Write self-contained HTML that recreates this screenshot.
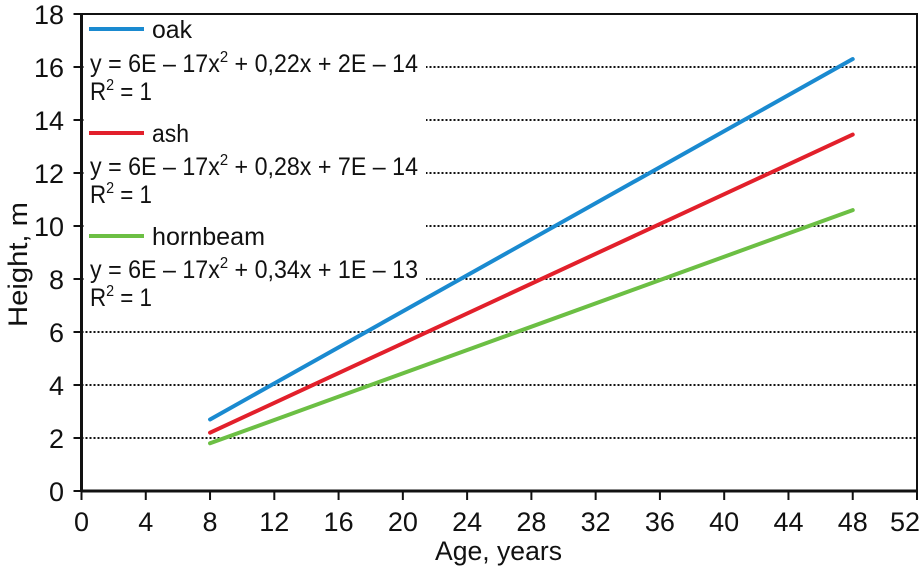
<!DOCTYPE html>
<html><head><meta charset="utf-8">
<style>
html,body{margin:0;padding:0;background:#fff;}
svg{display:block;font-family:"Liberation Sans",sans-serif;}
</style></head>
<body>
<svg id="chart" width="924" height="569" viewBox="0 0 924 569" xmlns="http://www.w3.org/2000/svg">
<g id="grid"></g>
<rect x="84" y="16" width="342" height="296" fill="#fff"/>
<g id="series"></g>
<g id="axes"></g>
<g id="legend" font-size="25" fill="#111">
  <line x1="89" y1="29" x2="144" y2="29" stroke="#1a8ad0" stroke-width="4"/>
  <text x="152" y="38" textLength="40" lengthAdjust="spacingAndGlyphs">oak</text>
  <text x="90" y="72" textLength="328" lengthAdjust="spacingAndGlyphs">y = 6E – 17x<tspan font-size="16" dy="-10">2</tspan><tspan dy="10"> + 0,22x + 2E – 14</tspan></text>
  <text x="90" y="100" textLength="62" lengthAdjust="spacingAndGlyphs">R<tspan font-size="16" dy="-10">2</tspan><tspan dy="10"> = 1</tspan></text>
  <line x1="89" y1="133" x2="144" y2="133" stroke="#e2202b" stroke-width="4"/>
  <text x="152" y="142" textLength="37" lengthAdjust="spacingAndGlyphs">ash</text>
  <text x="90" y="175" textLength="328" lengthAdjust="spacingAndGlyphs">y = 6E – 17x<tspan font-size="16" dy="-10">2</tspan><tspan dy="10"> + 0,28x + 7E – 14</tspan></text>
  <text x="90" y="203" textLength="62" lengthAdjust="spacingAndGlyphs">R<tspan font-size="16" dy="-10">2</tspan><tspan dy="10"> = 1</tspan></text>
  <line x1="89" y1="236" x2="144" y2="236" stroke="#6cbf44" stroke-width="4"/>
  <text x="152" y="245" textLength="113" lengthAdjust="spacingAndGlyphs">hornbeam</text>
  <text x="90" y="278" textLength="328" lengthAdjust="spacingAndGlyphs">y = 6E – 17x<tspan font-size="16" dy="-10">2</tspan><tspan dy="10"> + 0,34x + 1E – 13</tspan></text>
  <text x="90" y="306" textLength="62" lengthAdjust="spacingAndGlyphs">R<tspan font-size="16" dy="-10">2</tspan><tspan dy="10"> = 1</tspan></text>
</g>
<text x="435" y="560" font-size="27" textLength="127" lengthAdjust="spacingAndGlyphs" fill="#111">Age, years</text>
<text transform="translate(27,327) rotate(-90)" font-size="27" textLength="125" lengthAdjust="spacingAndGlyphs" fill="#111">Height,  m</text>
</svg>
<script>
const ages = [8, 48];
const oakHeights = [2.7, 16.3];
const ashHeights = [2.2, 13.45];
const hornbeamHeights = [1.8, 10.6];
const xTicks = [0,4,8,12,16,20,24,28,32,36,40,44,48,52];
const yTicks = [0,2,4,6,8,10,12,14,16,18];

const L=81.5,R=917,T=14,B=491;
const xs=v=>L+(v-0)/(52-0)*(R-L);
const ys=v=>B-(v-0)/(18-0)*(B-T);
const NS="http://www.w3.org/2000/svg";
function mk(tag,attrs,parent){const e=document.createElementNS(NS,tag);for(const k in attrs)e.setAttribute(k,attrs[k]);parent.appendChild(e);return e;}
const grid=document.getElementById('grid'),axes=document.getElementById('axes'),series=document.getElementById('series');

yTicks.forEach(t=>{
  if(t===0||t===18)return;
  const g=mk('line',{x1:L,x2:R,y1:ys(t),y2:ys(t),stroke:'#111','stroke-width':2,'stroke-dasharray':'2 2'},grid);
  
  
});
const frame=mk('path',{d:`M${L},${T}H${R}V${B}`,fill:'none',stroke:'#111','stroke-width':2},axes);


const xa=mk('line',{x1:L-1,x2:R+1,y1:B,y2:B,stroke:'#111','stroke-width':3},axes);


const ya=mk('line',{x1:L,x2:L,y1:T-1,y2:B+1,stroke:'#111','stroke-width':3},axes);


xTicks.forEach(t=>{
  const tk=mk('line',{x1:xs(t),x2:xs(t),y1:B,y2:B+9,stroke:'#111','stroke-width':2},axes);
  
  
  const lb=mk('text',{x:Math.min(xs(t),905),y:531,'font-size':27,'text-anchor':'middle',fill:'#111'},axes);
  lb.textContent=t;
  
  
});
yTicks.forEach(t=>{
  const tk=mk('line',{x1:L-8,x2:L,y1:ys(t),y2:ys(t),stroke:'#111','stroke-width':2},axes);
  
  
  const lb=mk('text',{x:64,y:ys(t)+10,'font-size':27,'text-anchor':'end',fill:'#111'},axes);
  lb.textContent=t;
  
  
});
[['oak',oakHeights,'#1a8ad0'],['ash',ashHeights,'#e2202b'],['hornbeam',hornbeamHeights,'#6cbf44']].forEach(([n,vals,c])=>{
  const pts=ages.map((a,i)=>xs(a)+','+ys(vals[i])).join(' ');
  const p=mk('polyline',{points:pts,fill:'none',stroke:c,'stroke-width':4,'stroke-linecap':'round'},series);
  
  
});
</script>
</body></html>
